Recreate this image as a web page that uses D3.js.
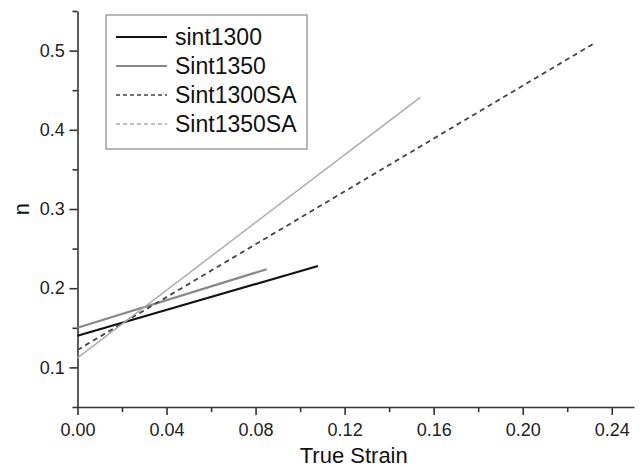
<!DOCTYPE html>
<html>
<head>
<meta charset="utf-8">
<script src="https://cdn.jsdelivr.net/npm/d3@7"></script>
<style>
  body { margin: 0; background: #fff; }
  svg { font-family: "Liberation Sans", Arial, sans-serif; }
</style>
</head>
<body>
<div class="chart"></div>
<script>
// series: straight fits, start and end points
var seriesNames = ["sint1300", "Sint1350", "Sint1300SA", "Sint1350SA"];
var strainValues = [[0, 0.108], [0, 0.085], [0, 0.232], [0, 0.154]];
var nValues = [[0.140, 0.228], [0.150, 0.224], [0.122, 0.509], [0.112, 0.441]];
var xTicks = [0, 0.04, 0.08, 0.12, 0.16, 0.20, 0.24];
var yTicks = [0.1, 0.2, 0.3, 0.4, 0.5];

var lineStyle = [
  { color: "#111", width: 2.2, dash: null, legendDash: null },
  { color: "#888", width: 2.2, dash: null, legendDash: null },
  { color: "#444", width: 1.8, dash: "5,4", legendDash: "4,3" },
  { color: "#aaa", width: 1.4, dash: null, legendDash: "4,3" }
];

var svgWidth = 640, svgHeight = 469;
var margin = { top: 11, right: 6, bottom: 62, left: 77.5 };
var width = svgWidth - margin.left - margin.right;
var height = svgHeight - margin.top - margin.bottom;

var svg = d3.select(".chart").append("svg")
  .attr("width", svgWidth)
  .attr("height", svgHeight);

var chartGroup = svg.append("g")
  .attr("transform", `translate(${margin.left}, ${margin.top})`);

var x = d3.scaleLinear().domain([0, 0.25]).range([0, width]);
var y = d3.scaleLinear().domain([0.05, 0.55]).range([height, 0]);

// minor ticks first
var xMinor = d3.range(0.02, 0.25, 0.04);
var yMinor = d3.range(0.05, 0.56, 0.1);

chartGroup.append("g")
  .attr("transform", `translate(0, ${height})`)
  .call(d3.axisBottom(x).tickValues(xMinor).tickSize(5).tickFormat(""))
  .call(g => g.select(".domain").remove());

chartGroup.append("g")
  .call(d3.axisLeft(y).tickValues(yMinor).tickSize(5).tickFormat(""))
  .call(g => g.select(".domain").remove());

var xAxis = chartGroup.append("g")
  .attr("transform", `translate(0, ${height})`)
  .call(d3.axisBottom(x).tickValues(xTicks).tickSize(8).tickSizeOuter(0)
    .tickFormat(d3.format(".2f")));

var yAxis = chartGroup.append("g")
  .call(d3.axisLeft(y).tickValues(yTicks).tickSize(8).tickSizeOuter(0)
    .tickFormat(d3.format(".1f")));

chartGroup.selectAll(".tick line, .domain")
  .attr("stroke", "#333")
  .attr("stroke-width", 1.6);

xAxis.selectAll("text")
  .attr("font-size", 18)
  .attr("fill", "#222")
  .attr("dy", "1.0em");

yAxis.selectAll("text")
  .attr("font-size", 18)
  .attr("fill", "#222")
  .attr("dx", "-0.1em");

// lines
var line = d3.line()
  .x(d => x(d[0]))
  .y(d => y(d[1]));

seriesNames.forEach(function(name, i) {
  var pts = strainValues[i].map((s, j) => [s, nValues[i][j]]);
  chartGroup.append("path")
    .datum(pts)
    .attr("class", "series")
    .attr("fill", "none")
    .attr("stroke", lineStyle[i].color)
    .attr("stroke-width", lineStyle[i].width)
    .attr("stroke-dasharray", lineStyle[i].dash)
    .attr("d", line);
});

// legend
var legend = svg.append("g")
  .attr("transform", "translate(106, 15)");

legend.append("rect")
  .attr("width", 201)
  .attr("height", 134)
  .attr("fill", "#fff")
  .attr("stroke", "#888")
  .attr("stroke-width", 1.2);

seriesNames.forEach(function(name, i) {
  var row = legend.append("g")
    .attr("transform", `translate(0, ${22 + i * 29})`);
  row.append("line")
    .attr("x1", 10).attr("x2", 61)
    .attr("stroke", lineStyle[i].color)
    .attr("stroke-width", lineStyle[i].legendDash ? 1.3 : 2)
    .attr("stroke-dasharray", lineStyle[i].legendDash);
  row.append("text")
    .attr("x", 69)
    .attr("dy", "0.36em")
    .attr("font-size", 23)
    .attr("fill", "#111")
    .text(name);
});

// axis labels
svg.append("text")
  .attr("x", margin.left + width * 0.5 - 2)
  .attr("y", 463)
  .attr("text-anchor", "middle")
  .attr("font-size", 22)
  .attr("fill", "#111")
  .text("True Strain");

svg.append("text")
  .attr("transform", `translate(29, ${margin.top + height / 2}) rotate(-90)`)
  .attr("text-anchor", "middle")
  .attr("font-size", 22)
  .attr("fill", "#111")
  .text("n");
</script>
</body>
</html>
